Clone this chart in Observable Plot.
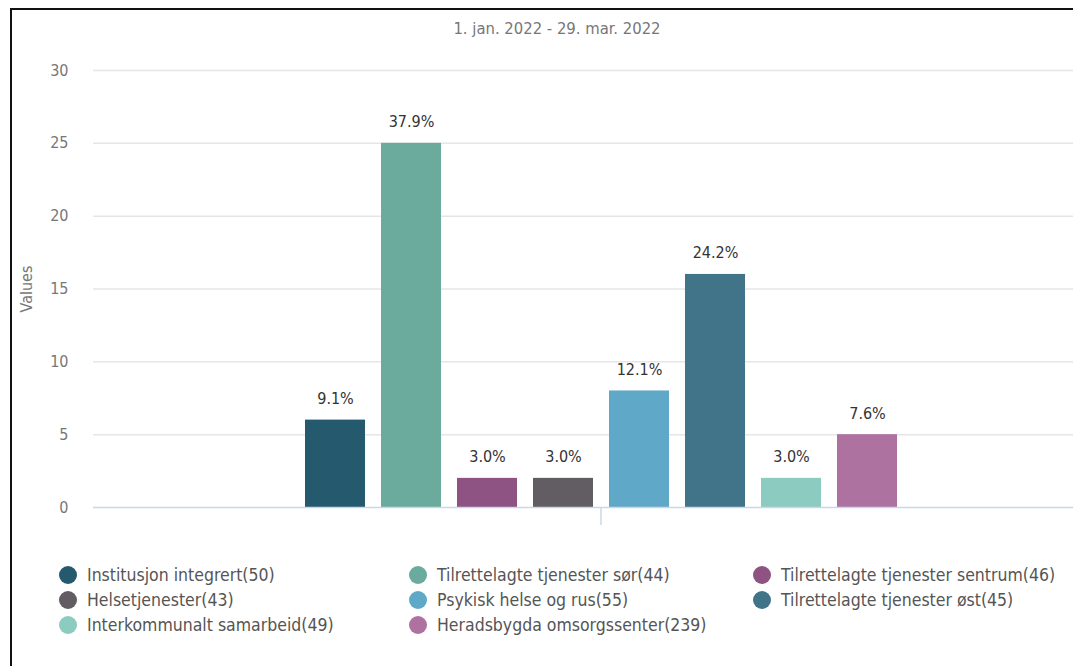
<!DOCTYPE html>
<html>
<head>
<meta charset="utf-8">
<script src="https://cdn.jsdelivr.net/npm/d3@7"></script>
<script src="https://cdn.jsdelivr.net/npm/@observablehq/plot@0.6"></script>
<style>
  html, body { margin: 0; padding: 0; background: #fff; overflow: hidden; width: 1073px; height: 666px; }
  body { font-family: "DejaVu Sans Condensed", Roboto, sans-serif; position: relative; }
  #frame { position: absolute; left: 10px; top: 8px; width: 1080px; height: 700px; border-left: 2px solid #111; border-top: 2px solid #111; }
  #title { position: absolute; top: 19px; left: 357px; width: 400px; text-align: center; font-size: 16.5px; color: #777; }
  #chart { position: absolute; left: 0; top: 0; width: 1108px; }
  #chart svg { max-width: none !important; }
  .leg { position: absolute; font-size: 17.5px; color: #555; white-space: nowrap; line-height: 20px; }
  .leg span.dot { position: absolute; left: -28px; top: 1px; width: 18px; height: 18px; border-radius: 50%; }
</style>
</head>
<body>
<div id="frame"></div>
<div id="chart"></div>
<div id="title"></div>
<div id="legend"></div>
<script>
const titleText = "1. jan. 2022 - 29. mar. 2022";
const series = [
  "Institusjon integrert(50)",
  "Tilrettelagte tjenester sør(44)",
  "Tilrettelagte tjenester sentrum(46)",
  "Helsetjenester(43)",
  "Psykisk helse og rus(55)",
  "Tilrettelagte tjenester øst(45)",
  "Interkommunalt samarbeid(49)",
  "Heradsbygda omsorgssenter(239)"
];
const values = [6, 25, 2, 2, 8, 16, 2, 5];
const colors = ["#24596e", "#6aab9e", "#8e5283", "#625d63", "#5fa8c8", "#427489", "#8ccbbf", "#ae72a1"];
const yTicks = [0, 5, 10, 15, 20, 25, 30];

const total = d3.sum(values);
const data = series.map((name, i) => ({name, value: values[i], pct: (100 * values[i] / total).toFixed(1) + "%"}));

document.getElementById("title").textContent = titleText;

const plot = Plot.plot({
  width: 1108,
  height: 530,
  marginTop: 70,
  marginBottom: 23,
  marginLeft: 93,
  marginRight: 0,
  style: {fontFamily: "'DejaVu Sans Condensed', Roboto, sans-serif", background: "transparent", maxWidth: "none"},
  x: {domain: series, range: [297, 905], paddingInner: 0.21, paddingOuter: 0.105, axis: null},
  y: {domain: [0, 30], axis: null},
  color: {domain: series, range: colors},
  marks: [
    Plot.ruleY(yTicks.filter(d => d > 0), {stroke: "#e6e6e6", strokeWidth: 1.5}),
    Plot.axisY({ticks: yTicks, tickSize: 0, tickPadding: 25, fontSize: 16, color: "#777",
      label: "Values", labelArrow: "none", labelAnchor: "center", labelOffset: 73}),
    Plot.barY(data, {x: "name", y: "value", fill: "name"}),
    Plot.ruleY([0], {stroke: "#ccd6eb", strokeWidth: 1.5}),
    Plot.text(data, {x: "name", y: "value", text: "pct", lineAnchor: "bottom", dy: -16, fontSize: 16, fill: "#333"})
  ]
});

// category tick at the centre of the group, from the x scale
const xs = plot.scale("x");
const bw = xs.bandwidth;
const x0 = xs.apply(series[0]);
const x1 = xs.apply(series[series.length - 1]) + bw;
const cx = (x0 + x1) / 2;
d3.select(plot).append("line")
  .attr("x1", cx).attr("x2", cx)
  .attr("y1", 530 - 23).attr("y2", 530 - 23 + 18)
  .attr("stroke", "#ccd6eb").attr("stroke-width", 1.5);

document.getElementById("chart").appendChild(plot);

// legend
const legend = document.getElementById("legend");
const colX = [87, 437, 781];
const rowY = [565, 590, 615];
series.forEach((name, i) => {
  const div = document.createElement("div");
  div.className = "leg";
  div.style.left = colX[i % 3] + "px";
  div.style.top = rowY[Math.floor(i / 3)] + "px";
  const dot = document.createElement("span");
  dot.className = "dot";
  dot.style.background = colors[i];
  div.appendChild(dot);
  div.appendChild(document.createTextNode(name));
  legend.appendChild(div);
});
</script>
</body>
</html>
